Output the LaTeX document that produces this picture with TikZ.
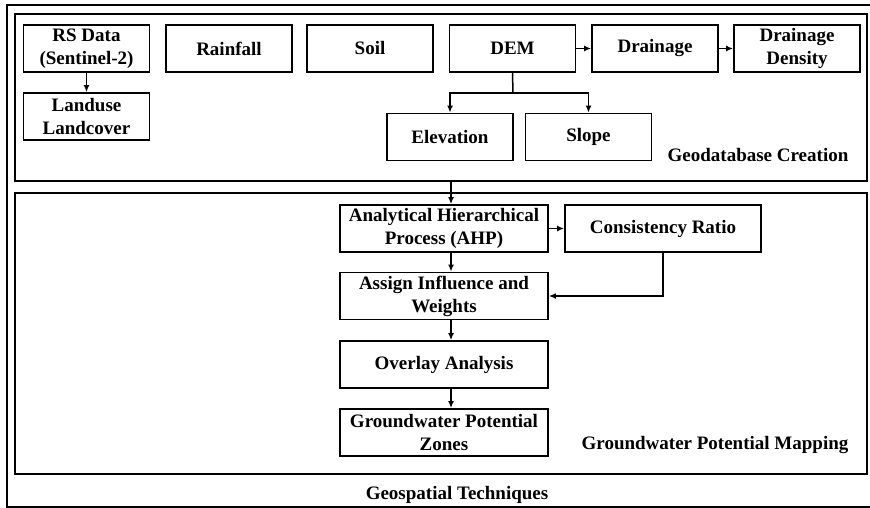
\documentclass[tikz,border=0pt]{standalone}
\usepackage{fontspec}
\setmainfont{Liberation Serif}
\usetikzlibrary{arrows.meta}

\begin{document}
\begin{tikzpicture}[x=1pt, y=-1pt,
    box/.style={draw, line width=1.8pt, minimum width=126pt, minimum height=47pt, align=center, inner sep=1pt, font=\fontsize{19}{23}\selectfont\bfseries},
    widebox/.style={box, minimum width=208pt},
    frame/.style={draw, line width=1.8pt, minimum width=852pt},
    label/.style={font=\fontsize{19}{23}\selectfont\bfseries},
    arr/.style={line width=1.5pt, -{Latex[length=7pt,width=6pt]}}]
        \useasboundingbox (0,0) rectangle (870,508);

        % Riquadri
        \node[draw, line width=1.5pt, minimum width=890pt, minimum height=502pt] (outer) at (452,256) {};
        \node[frame, minimum height=167pt] (geo) at (441,97.5) {};
        \node[frame, minimum height=281pt] (gwp) at (441,333.5) {};

        % Nodi
        \node[box] (rs) at (86.5,48.5) {RS Data\\(Sentinel-2)};
        \node[box] (lulc) at (86.5,116.5) {Landuse\\Landcover};
        \node[box] (rain) at (229,48.5) {Rainfall};
        \node[box] (soil) at (370,48.5) {Soil};
        \node[box] (dem) at (512.5,48.5) {DEM};
        \node[box] (drain) at (655,48.5) {Drainage};
        \node[box] (dd) at (797,48.5) {Drainage\\Density};
        \node[box] (elev) at (450,137) {Elevation};
        \node[box] (slope) at (588.5,137) {Slope};
        \coordinate (split) at (513,93);

        \node[widebox] (ahp) at (444,228.5) {Analytical Hierarchical\\Process (AHP)};
        \node[box, minimum width=196pt] (cr) at (663,228.5) {Consistency Ratio};
        \node[widebox] (assign) at (444,296) {Assign Influence and\\Weights};
        \node[widebox] (overlay) at (444,364.5) {Overlay Analysis};
        \node[widebox] (gpz) at (444,432.5) {Groundwater Potential\\Zones};

        % Etichette
        \node[label] (geolab) at (758,155) {Geodatabase Creation};
        \node[label] (gwplab) at (715,445) {Groundwater Potential Mapping};
        \node[label] (gislab) at (457,495) {Geospatial Techniques};

        % Archi
        \draw[arr] (rs) -- (lulc);
        \draw[arr] (dem) -- (drain);
        \draw[arr] (drain) -- (dd);
        \draw[line width=1.5pt] (dem.south) -- (split);
        \draw[arr] (split) -| (elev); % ramo verso Elevation
        \draw[arr] (split) -| (slope); % ramo verso Slope
        \draw[arr] ([xshift=7pt]ahp.north |- geo.south) -- ([xshift=7pt]ahp.north);
        \draw[arr] (ahp) -- (cr);
        \draw[arr] ([xshift=7pt]ahp.south) -- ([xshift=7pt]assign.north);
        \draw[arr] (cr.south) |- (assign.east);
        \draw[arr] ([xshift=7pt]assign.south) -- ([xshift=7pt]overlay.north);
        \draw[arr] ([xshift=7pt]overlay.south) -- ([xshift=7pt]gpz.north);

    \end{tikzpicture}
\end{document}
